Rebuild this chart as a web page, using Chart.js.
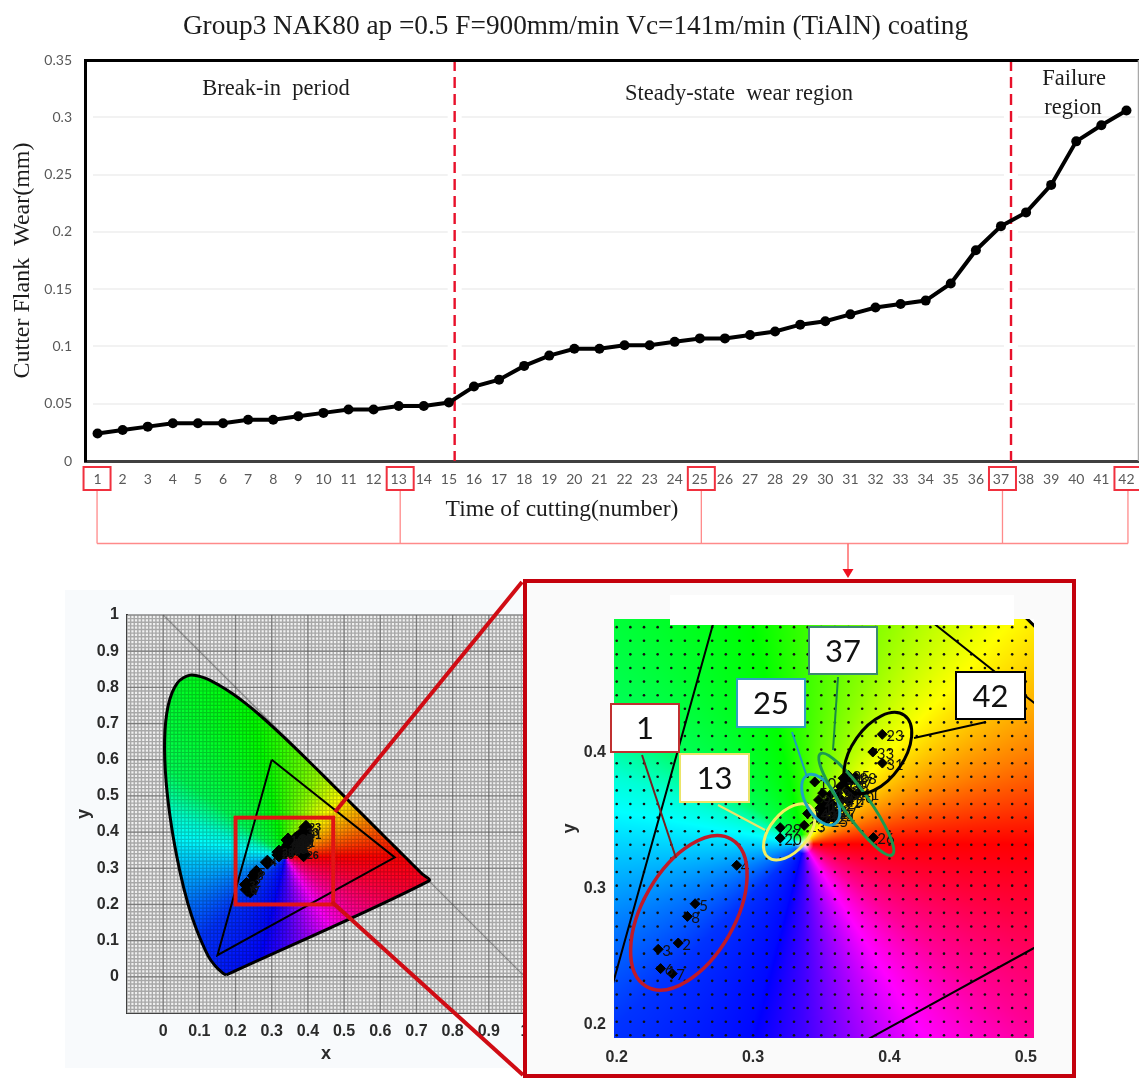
<!DOCTYPE html>
<html>
<head>
<meta charset="utf-8">
<style>
  html, body { margin: 0; padding: 0; background: #fff; }
  canvas { position: absolute; left: 0; top: 0; }
</style>
<script src="https://cdn.jsdelivr.net/npm/chart.js@4/dist/chart.umd.js"></script>
</head>
<body>
<canvas id="overview" width="1139" height="1079" style="z-index:1"></canvas>
<canvas id="detail" width="1139" height="1079" style="z-index:2"></canvas>
<canvas id="wear" width="1139" height="1079" style="z-index:3"></canvas>
<script>
// wear curve
const cutNumbers = [1,2,3,4,5,6,7,8,9,10,11,12,13,14,15,16,17,18,19,20,21,22,23,24,25,26,27,28,29,30,31,32,33,34,35,36,37,38,39,40,41,42];
const flankWear = [0.024,0.027,0.030,0.033,0.033,0.033,0.036,0.036,0.039,0.042,0.045,0.045,0.048,0.048,0.051,0.065,0.071,0.083,0.092,0.098,0.098,0.101,0.101,0.104,0.107,0.107,0.110,0.113,0.119,0.122,0.128,0.134,0.137,0.140,0.155,0.184,0.205,0.217,0.241,0.279,0.293,0.306];
const wearTickLabels = ['0','0.05','0.1','0.15','0.2','0.25','0.3','0.35'];
const phaseBounds = [15.23, 37.4];
const markedCuts = [1, 13, 25, 37, 42];

// chromaticity diagram
const locusX = [0.1741,0.1666,0.1440,0.1241,0.0913,0.0687,0.0454,0.0235,0.0082,0.0039,0.0139,0.0389,0.0743,0.1142,0.1547,0.1929,0.2296,0.2658,0.3016,0.3373,0.3731,0.4087,0.4441,0.4788,0.5125,0.5448,0.5752,0.6029,0.6270,0.6482,0.6658,0.6801,0.6915,0.7006,0.7079,0.7140,0.7347,0.1741];
const locusY = [0.0050,0.0089,0.0297,0.0578,0.1327,0.2007,0.2950,0.4127,0.5384,0.6548,0.7502,0.8120,0.8338,0.8262,0.8059,0.7816,0.7543,0.7243,0.6923,0.6589,0.6245,0.5896,0.5547,0.5202,0.4866,0.4544,0.4242,0.3965,0.3725,0.3514,0.3340,0.3197,0.3083,0.2993,0.2920,0.2859,0.2653,0.0050];
const gamutX = [0.30,0.64,0.15,0.30];
const gamutY = [0.60,0.33,0.06,0.60];

const pointLabels = ['5','8','2','3','6','7','4','29','20','13','23','33','31','26','10','14','9','11','12','15','16','17','18','19','21','22','24','25','27','28','30','32','34','35','36','37','38','39','40','41','42','1'];
const pointX = [0.2575,0.2518,0.2451,0.2304,0.2322,0.2407,0.2880,0.3199,0.3199,0.3375,0.3947,0.3878,0.3948,0.3882,0.3452,0.3400,0.3480,0.3510,0.3490,0.3520,0.3550,0.3530,0.3560,0.3500,0.3470,0.3580,0.3590,0.3540,0.3600,0.3570,0.3620,0.3640,0.3660,0.3700,0.3680,0.3720,0.3750,0.3690,0.3730,0.3770,0.3650,0.3700];
const pointY = [0.2887,0.2794,0.2598,0.2552,0.2410,0.2373,0.3169,0.3446,0.3370,0.3463,0.4132,0.4002,0.3921,0.3373,0.3782,0.3550,0.3650,0.3700,0.3590,0.3610,0.3640,0.3560,0.3580,0.3540,0.3520,0.3620,0.3520,0.3500,0.3560,0.3690,0.3700,0.3750,0.3810,0.3830,0.3780,0.3790,0.3820,0.3720,0.3680,0.3700,0.3650,0.3640];

const overviewTicks = [0,0.1,0.2,0.3,0.4,0.5,0.6,0.7,0.8,0.9,1];
const detailTicksX = [0.2,0.3,0.4,0.5];
const detailTicksY = [0.2,0.3,0.4];

const serif = '"Liberation Serif", "Times New Roman", serif';
const sans = '"Liberation Sans", Arial, sans-serif';
const tickGray = '#595959';

function xy(xs, ys) {
  return xs.map((x, i) => ({ x: x, y: ys[i] }));
}

function text(ctx, str, x, y, font, color, align) {
  ctx.font = font;
  ctx.fillStyle = color || '#222';
  ctx.textAlign = align || 'center';
  ctx.textBaseline = 'middle';
  ctx.fillText(str, x, y);
}

function seg(ctx, x1, y1, x2, y2, color, width) {
  ctx.beginPath();
  ctx.moveTo(x1, y1);
  ctx.lineTo(x2, y2);
  ctx.strokeStyle = color;
  ctx.lineWidth = width;
  ctx.stroke();
}

// hue around the white point, angle in degrees -> hue in degrees
const hueStops = [[0,0],[22,30],[47,60],[68,85],[103,120],[143,140],[160,170],[180,190],[202,210],[224,228],[254,238],[270,255],[302,300],[321,325],[342,345],[360,360]];

function fieldColor(x, y) {
  const dx = x - 0.337, dy = y - 0.333;
  let a = Math.atan2(dy, dx) * 180 / Math.PI;
  if (a < 0) a += 360;
  let h = 0;
  for (let i = 1; i < hueStops.length; i++) {
    if (a <= hueStops[i][0]) {
      const p = hueStops[i - 1], q = hueStops[i];
      h = p[1] + (q[1] - p[1]) * (a - p[0]) / (q[0] - p[0]);
      break;
    }
  }
  const f = n => {
    const k = (n + h / 60) % 6;
    return Math.max(0, Math.min(k, 4 - k, 1));
  };
  const d = Math.sqrt(dx * dx + dy * dy);
  const w = Math.max(0, 1 - d / 0.007);
  return [5, 3, 1].map(n => 255 * ((1 - f(n)) * (1 - w) + w * 1));
}

function drawField(chart) {
  const a = chart.chartArea, sx = chart.scales.x, sy = chart.scales.y;
  const w = Math.round(a.right - a.left), h = Math.round(a.bottom - a.top);
  const off = document.createElement('canvas');
  off.width = w;
  off.height = h;
  const c = off.getContext('2d');
  const img = c.createImageData(w, h);
  for (let j = 0; j < h; j++) {
    const vy = sy.getValueForPixel(a.top + j);
    for (let i = 0; i < w; i++) {
      const rgb = fieldColor(sx.getValueForPixel(a.left + i), vy);
      const o = (j * w + i) * 4;
      img.data[o] = rgb[0];
      img.data[o + 1] = rgb[1];
      img.data[o + 2] = rgb[2];
      img.data[o + 3] = 255;
    }
  }
  c.putImageData(img, 0, 0);
  const ctx = chart.ctx;
  ctx.save();
  ctx.beginPath();
  locusX.forEach((x, i) => ctx.lineTo(sx.getPixelForValue(x), sy.getPixelForValue(locusY[i])));
  ctx.closePath();
  ctx.clip();
  ctx.drawImage(off, a.left, a.top);
  ctx.restore();
}

// the paper's fine 0.01 lattice, clipped to the plot box
function drawLattice(chart, color, width) {
  const a = chart.chartArea, sx = chart.scales.x, sy = chart.scales.y, ctx = chart.ctx;
  ctx.save();
  ctx.beginPath();
  for (let n = -10; n <= 100; n++) {
    const px = sx.getPixelForValue(n / 100), py = sy.getPixelForValue(n / 100);
    ctx.moveTo(px, a.top);
    ctx.lineTo(px, a.bottom);
    ctx.moveTo(a.left, py);
    ctx.lineTo(a.right, py);
  }
  ctx.strokeStyle = color;
  ctx.lineWidth = width;
  ctx.stroke();
  ctx.restore();
}

function pointLabelsPlugin(font, dx, dy) {
  return {
    id: 'pointLabelsPlugin',
    afterDatasetsDraw(chart) {
      const sx = chart.scales.x, sy = chart.scales.y, ctx = chart.ctx;
      ctx.save();
      ctx.beginPath();
      ctx.rect(chart.chartArea.left, chart.chartArea.top, chart.chartArea.width, chart.chartArea.height);
      ctx.clip();
      pointLabels.forEach((t, i) => {
        text(ctx, t, sx.getPixelForValue(pointX[i]) + dx, sy.getPixelForValue(pointY[i]) + dy, font, '#111', 'left');
      });
      ctx.restore();
    }
  };
}

function chromaDatasets(radius) {
  return [
    { data: xy(locusX, locusY), showLine: true, borderColor: '#000', borderWidth: 3, pointRadius: 0, tension: 0.3 },
    { data: xy(gamutX, gamutY), showLine: true, borderColor: '#000', borderWidth: 2, pointRadius: 0 },
    { data: xy(pointX, pointY), showLine: false, pointStyle: 'rectRot', pointRadius: radius, backgroundColor: '#000', borderColor: '#000', borderWidth: 1 }
  ];
}

function fixedTicks(values) {
  return function (scale) { scale.ticks = values.map(v => ({ value: v })); };
}

function chromaAxis(opts) {
  return {
    type: 'linear',
    position: opts.position,
    min: opts.min,
    max: opts.max,
    afterBuildTicks: fixedTicks(opts.ticks),
    afterFit(scale) {
      if (opts.position === 'left') scale.width = opts.size; else scale.height = opts.size;
    },
    grid: { display: false, drawTicks: false },
    border: opts.border || { display: false },
    title: opts.title || { display: false },
    ticks: {
      autoSkip: false,
      maxRotation: 0,
      padding: opts.padding,
      color: '#2b2b2b',
      font: { family: sans, size: 16, weight: 'bold' },
      callback: v => String(v)
    }
  };
}

// left panel: whole diagram
new Chart(document.getElementById('overview'), {
  type: 'scatter',
  data: { datasets: chromaDatasets(7) },
  plugins: [{
    id: 'overviewBack',
    beforeDraw(chart) {
      const ctx = chart.ctx;
      ctx.fillStyle = '#f8fafc';
      ctx.fillRect(65, 590, 458, 478);
    },
    beforeDatasetsDraw(chart) {
      const a = chart.chartArea, sx = chart.scales.x, sy = chart.scales.y, ctx = chart.ctx;
      ctx.fillStyle = '#f0f0f0';
      ctx.fillRect(a.left, a.top, a.width, a.height);
      drawLattice(chart, 'rgba(95,95,95,0.5)', 1.4);
      overviewTicks.forEach(v => {
        seg(ctx, sx.getPixelForValue(v), a.top, sx.getPixelForValue(v), a.bottom, 'rgba(70,70,70,0.45)', 1.2);
        seg(ctx, a.left, sy.getPixelForValue(v), a.right, sy.getPixelForValue(v), 'rgba(70,70,70,0.45)', 1.2);
      });
      seg(ctx, sx.getPixelForValue(0), sy.getPixelForValue(1), sx.getPixelForValue(1), sy.getPixelForValue(0), 'rgba(80,80,80,0.55)', 1.2);
      drawField(chart);
      ctx.save();
      ctx.beginPath();
      locusX.forEach((x, i) => ctx.lineTo(sx.getPixelForValue(x), sy.getPixelForValue(locusY[i])));
      ctx.closePath();
      ctx.clip();
      drawLattice(chart, 'rgba(0,0,0,0.22)', 1.2);
      ctx.restore();
    },
    afterDraw(chart) {
      const sx = chart.scales.x, sy = chart.scales.y, ctx = chart.ctx;
      const x0 = sx.getPixelForValue(0.2), x1 = sx.getPixelForValue(0.47);
      const y0 = sy.getPixelForValue(0.44), y1 = sy.getPixelForValue(0.2);
      ctx.strokeStyle = '#e01414';
      ctx.lineWidth = 4;
      ctx.strokeRect(x0, y0, x1 - x0, y1 - y0);
    }
  }, pointLabelsPlugin('bold 11px ' + sans, 3, 1)],
  options: {
    responsive: false,
    animation: false,
    layout: { autoPadding: false, padding: { left: 0, top: 615, right: 614, bottom: 0 } },
    plugins: { legend: { display: false }, title: { display: false }, tooltip: { enabled: false } },
    scales: {
      x: chromaAxis({
        position: 'bottom', min: -0.1, max: 1, ticks: overviewTicks, size: 66, padding: 9,
        border: { color: '#333', width: 2 },
        title: { display: true, text: 'x', color: '#2b2b2b', font: { family: sans, size: 18, weight: 'bold' }, padding: { top: 0, bottom: 14 } }
      }),
      y: chromaAxis({
        position: 'left', min: -0.1, max: 1, ticks: overviewTicks, size: 127, padding: 8,
        border: { color: '#333', width: 2 },
        title: { display: true, text: 'y', color: '#2b2b2b', font: { family: sans, size: 18, weight: 'bold' }, padding: { top: 73, bottom: 0 } }
      })
    }
  }
});

// right panel: zoom on the measured region
const rings = [
  { x: 0.2529, y: 0.2820, a: 85, b: 46, rot: -60, color: '#c01a28', width: 3.5 },
  { x: 0.3265, y: 0.3415, a: 33, b: 19, rot: -50, color: '#f3ef62', width: 3 },
  { x: 0.3496, y: 0.3651, a: 28, b: 15, rot: 60, color: '#1ea2c4', width: 3 },
  { x: 0.3757, y: 0.3618, a: 62, b: 13, rot: 54.6, color: '#1b9a50', width: 3 },
  { x: 0.3915, y: 0.3995, a: 46, b: 26, rot: -55, color: '#000', width: 3 }
];
const callouts = [
  { t: '1', x: 611, y: 704, w: 68, h: 48, color: '#c03030', from: [642, 755], to: [676, 858], line: '#7a2020' },
  { t: '13', x: 680, y: 754, w: 69, h: 48, color: '#ebe468', from: [718, 805], to: [765, 830], line: '#ebe468' },
  { t: '25', x: 737, y: 679, w: 68, h: 48, color: '#2fa0c0', from: [792, 732], to: [807, 777], line: '#1d9ac0' },
  { t: '37', x: 809, y: 627, w: 68, h: 47, color: '#3a8a70', from: [838, 677], to: [833, 750], line: '#178a45' },
  { t: '42', x: 956, y: 672, w: 69, h: 47, color: '#000', from: [914, 738], to: [986, 722], line: '#000' }
];

new Chart(document.getElementById('detail'), {
  type: 'scatter',
  data: { datasets: chromaDatasets(5) },
  plugins: [{
    id: 'detailBack',
    beforeDraw(chart) {
      chart.ctx.fillStyle = '#fafafa';
      chart.ctx.fillRect(525, 580, 549, 497);
    },
    beforeDatasetsDraw(chart) {
      const a = chart.chartArea, sx = chart.scales.x, sy = chart.scales.y, ctx = chart.ctx;
      ctx.fillStyle = '#fff';
      ctx.fillRect(a.left, a.top, a.width, a.height);
      drawField(chart);
      ctx.save();
      ctx.beginPath();
      ctx.rect(a.left, a.top, a.width, a.height);
      ctx.clip();
      ctx.fillStyle = '#111';
      for (let i = 20; i <= 50; i++) {
        for (let j = 19; j <= 49; j++) {
          ctx.beginPath();
          ctx.arc(sx.getPixelForValue(i / 100), sy.getPixelForValue(j / 100 + 0.002), 1.3, 0, Math.PI * 2);
          ctx.fill();
        }
      }
      ctx.restore();
    },
    afterDraw(chart) {
      const sx = chart.scales.x, sy = chart.scales.y, ctx = chart.ctx;
      rings.forEach(r => {
        ctx.beginPath();
        ctx.ellipse(sx.getPixelForValue(r.x), sy.getPixelForValue(r.y), r.a, r.b, r.rot * Math.PI / 180, 0, Math.PI * 2);
        ctx.strokeStyle = r.color;
        ctx.lineWidth = r.width;
        ctx.stroke();
      });
      ctx.fillStyle = '#fff';
      ctx.fillRect(670, 595, 344, 30);
      callouts.forEach(c => {
        seg(ctx, c.from[0], c.from[1], c.to[0], c.to[1], c.line, 2);
        ctx.fillStyle = '#fff';
        ctx.fillRect(c.x, c.y, c.w, c.h);
        ctx.strokeStyle = c.color;
        ctx.lineWidth = 2;
        ctx.strokeRect(c.x, c.y, c.w, c.h);
        text(ctx, c.t, c.x + c.w / 2, c.y + c.h / 2 + 1, '31px Lato', '#111');
      });
    }
  }, pointLabelsPlugin('15px Lato', 4, 2)],
  options: {
    responsive: false,
    animation: false,
    layout: { autoPadding: false, padding: { left: 0, top: 619, right: 105, bottom: 0 } },
    plugins: { legend: { display: false }, title: { display: false }, tooltip: { enabled: false } },
    scales: {
      x: chromaAxis({ position: 'bottom', min: 0.198, max: 0.506, ticks: detailTicksX, size: 41, padding: 10 }),
      y: chromaAxis({
        position: 'left', min: 0.19, max: 0.498, ticks: detailTicksY, size: 614, padding: 8,
        title: { display: true, text: 'y', color: '#2b2b2b', font: { family: sans, size: 18, weight: 'bold' }, padding: { top: 559, bottom: 0 } }
      })
    }
  }
});

// top chart, also carries the connectors that run over the panels below
new Chart(document.getElementById('wear'), {
  type: 'line',
  data: {
    labels: cutNumbers,
    datasets: [{
      data: flankWear,
      borderColor: '#000',
      backgroundColor: '#000',
      borderWidth: 4,
      pointRadius: 5,
      pointBorderWidth: 0,
      tension: 0,
      clip: false
    }]
  },
  plugins: [{
    id: 'wearMarks',
    beforeDatasetsDraw(chart) {
      const a = chart.chartArea, sx = chart.scales.x, ctx = chart.ctx;
      ctx.fillStyle = '#fff';
      ctx.fillRect(a.left + 2, a.top + 2, 6, a.height - 4);
      ctx.fillRect(1135, a.top + 2, 6, a.height - 4);
      phaseBounds.forEach(v => {
        const px = sx.getPixelForValue(v - 1);
        ctx.fillStyle = '#fff';
        ctx.fillRect(px - 7, a.top + 2, 14, a.height - 4);
        ctx.save();
        ctx.setLineDash([11, 6]);
        seg(ctx, px, a.top, px, a.bottom, '#e8102a', 2.4);
        ctx.restore();
      });
    },
    afterDraw(chart) {
      const a = chart.chartArea, sx = chart.scales.x, ctx = chart.ctx;
      seg(ctx, 84, 60.5, 1139, 60.5, '#000', 3);
      seg(ctx, 1138.5, 60, 1138.5, 461, '#a8a8a8', 1.5);

      text(ctx, 'Group3 NAK80 ap =0.5 F=900mm/min Vc=141m/min (TiAlN) coating', 575.5, 27, '27.3px ' + serif, '#1c1c1c');
      text(ctx, 'Break-in  period', 276, 89, '22.5px ' + serif, '#1c1c1c');
      text(ctx, 'Steady-state  wear region', 739, 94, '22.5px ' + serif, '#1c1c1c');
      text(ctx, 'Failure', 1074, 79, '22.5px ' + serif, '#1c1c1c');
      text(ctx, 'region', 1073, 108, '22.5px ' + serif, '#1c1c1c');
      text(ctx, 'Time of cutting(number)', 562, 510, '23.5px ' + serif, '#1c1c1c');

      // red tick boxes and their bracket
      const drops = markedCuts.map(c => {
        const px = sx.getPixelForValue(c - 1) + (c === 1 ? -0.5 : 1.5);
        ctx.strokeStyle = '#f0303e';
        ctx.lineWidth = 2;
        ctx.strokeRect(px - 13.5, 467, 27, 23);
        return px;
      });
      drops.forEach(px => seg(ctx, px, 491, px, 543.5, '#ff8a8a', 1.3));
      seg(ctx, drops[0], 543.5, drops[drops.length - 1], 543.5, '#ff8a8a', 1.5);
      seg(ctx, 848, 543.5, 848, 570, '#ff6a6a', 1.5);
      ctx.beginPath();
      ctx.moveTo(842.5, 569);
      ctx.lineTo(853.5, 569);
      ctx.lineTo(848, 578);
      ctx.closePath();
      ctx.fillStyle = '#f01020';
      ctx.fill();

      // zoom frame and the two lines from the overview box
      seg(ctx, 335, 812, 522, 582, '#d00c14', 4);
      seg(ctx, 332, 902, 523, 1075, '#d00c14', 4);
      ctx.strokeStyle = '#c4000c';
      ctx.lineWidth = 4;
      ctx.strokeRect(525, 581, 549, 495);
    }
  }],
  options: {
    responsive: false,
    animation: false,
    layout: { autoPadding: false, padding: { left: 0, top: 60, right: -2, bottom: 0 } },
    plugins: { legend: { display: false }, title: { display: false }, tooltip: { enabled: false } },
    scales: {
      x: {
        type: 'category',
        offset: true,
        afterFit(scale) {
          scale.height = 618;
          scale.paddingLeft = 0;
          scale.paddingRight = 0;
        },
        grid: { display: false, drawTicks: false, offset: true },
        border: { color: '#404040', width: 3 },
        ticks: { autoSkip: false, maxRotation: 0, padding: 10, color: tickGray, font: { family: 'Lato', size: 14 } }
      },
      y: {
        min: 0,
        max: 0.35,
        afterFit(scale) { scale.width = 85; },
        grid: { color: '#f2f2f2', lineWidth: 2, drawTicks: false },
        border: { color: '#000', width: 3 },
        title: { display: true, text: 'Cutter Flank  Wear(mm)', color: '#1c1c1c', font: { family: serif, size: 24 }, padding: { top: 8, bottom: 0 } },
        ticks: {
          stepSize: 0.05,
          padding: 13,
          color: tickGray,
          font: { family: 'Lato', size: 14 },
          callback: (v, i) => wearTickLabels[i]
        }
      }
    }
  }
});
</script>
</body>
</html>
